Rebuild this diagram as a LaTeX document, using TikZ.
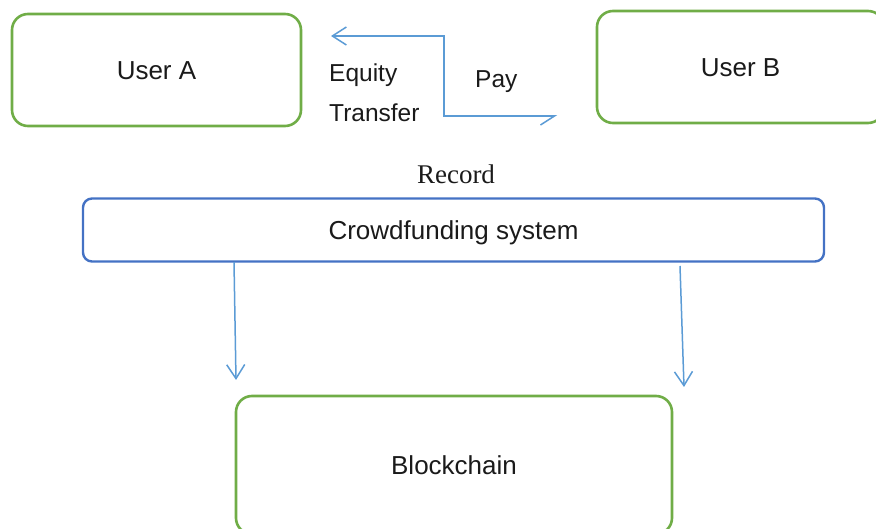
\documentclass[tikz,border=0pt]{standalone}
\usepackage{fontspec}
\setmainfont{Liberation Sans}
\newfontfamily\recfont{Liberation Serif}
\usetikzlibrary{arrows.meta,calc}
\definecolor{boxgreen}{RGB}{112,173,71}
\definecolor{boxblue}{RGB}{68,114,196}
\definecolor{arrblue}{RGB}{91,155,213}
\definecolor{txt}{RGB}{26,26,26}
\begin{document}
\begin{tikzpicture}[x=1pt,y=-1pt,
  greenbox/.style={draw=boxgreen,line width=2.6pt,rounded corners=16pt,inner sep=0pt,
    font=\fontsize{26}{30}\selectfont,text=txt,text height=18.6pt,text depth=0pt},
  bluebox/.style={draw=boxblue,line width=2.4pt,rounded corners=9pt,inner sep=0pt,
    font=\fontsize{26}{30}\selectfont,text=txt,text height=18.6pt,text depth=0pt},
  conn/.style={draw=arrblue,line width=1.5pt},
  vtip/.tip={Straight Barb[length=14pt,width=18pt,line width=1.5pt]},
  htip/.tip={Straight Barb[harpoon,swap,length=14pt,width=18pt,line width=1.5pt]},
  lbl/.style={font=\fontsize{24.5}{28}\selectfont,text=txt,inner sep=0pt,anchor=west}]
\useasboundingbox (0,0) rectangle (876,529);
\node[greenbox,minimum width=289pt,minimum height=112pt] (ua) at (156.5,70) {User A};
\node[greenbox,minimum width=287pt,minimum height=112pt] (ub) at (740.5,67) {User B};
\node[bluebox,minimum width=741pt,minimum height=63pt] (cf) at (453.5,230) {Crowdfunding system};
\node[greenbox,minimum width=436pt,minimum height=138pt] (bc) at (454,465) {Blockchain};
\node[font=\recfont\fontsize{27}{30}\selectfont,text=txt,inner sep=0pt] (rec) at (456,174) {Record};
\node[lbl] (eq) at (329,75) {Equity};
\node[lbl] (tr) at (329,113) {Transfer};
\node[lbl] (pay) at (475,82) {Pay};
\coordinate (pl) at (331,36);
\coordinate (pr) at (557,116);
\coordinate (pm) at ($(pl)!0.5!(pr)$);
\draw[conn,{vtip}-{htip}] (pl) -| (pm) |- (pr);
\coordinate (a1s) at (234,262);
\coordinate (a1e) at (236,380);
\coordinate (a2s) at (680,266);
\coordinate (a2e) at (684,387);
\draw[conn,-{vtip}] (a1s) -- (a1e);
\draw[conn,-{vtip}] (a2s) -- (a2e);
\end{tikzpicture}
\end{document}
